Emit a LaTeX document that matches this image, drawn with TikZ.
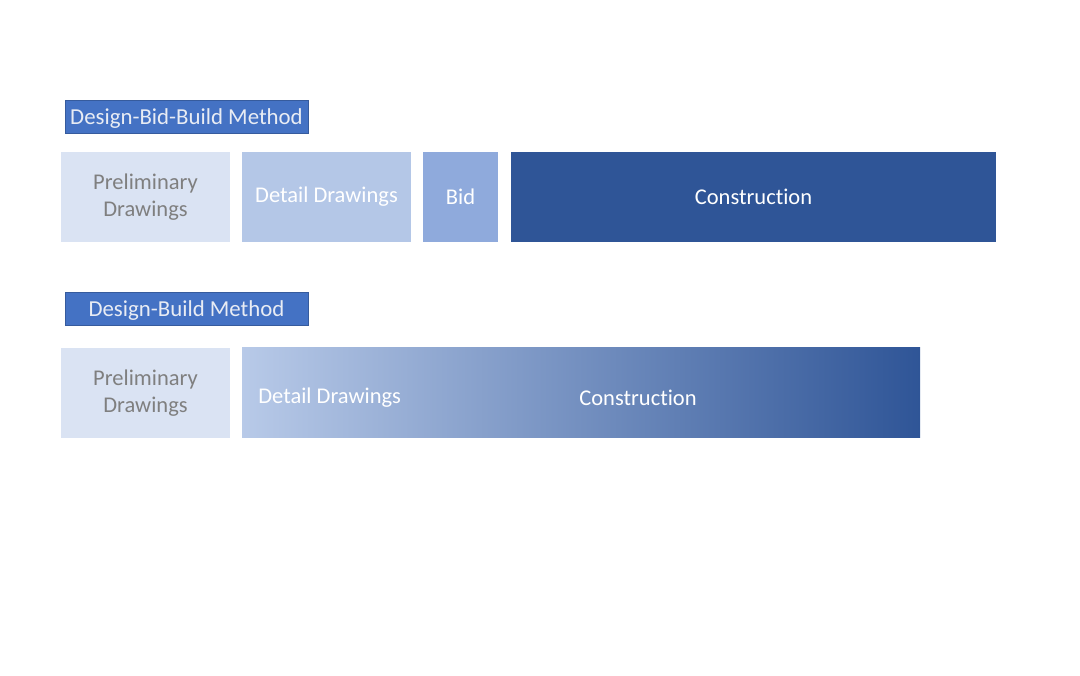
\documentclass[tikz,border=0pt]{standalone}
\usepackage{fontspec}
\setmainfont{Carlito}[Ligatures=NoCommon]
\usepackage{tikz}

\definecolor{hdrblue}{HTML}{4472C4}
\definecolor{prelim}{HTML}{DAE3F3}
\definecolor{detail}{HTML}{B4C7E7}
\definecolor{bidblue}{HTML}{8FAADC}
\definecolor{constr}{HTML}{2F5597}
\definecolor{midblue}{HTML}{7F94BC}
\definecolor{greytext}{HTML}{7F7F7F}
\definecolor{hdrtext}{HTML}{E8ECF4}

\tikzset{
  stage/.style={inner sep=0pt, minimum height=1.8cm, align=center,
                text=white, font=\fontsize{12.8}{15.4}\selectfont},
  header/.style={inner sep=0pt, minimum width=4.86cm, minimum height=0.66cm,
                 text height=0.36cm, text depth=0.04cm,
                 fill=hdrblue, draw=hdrblue!80!black, line width=0.4pt,
                 text=hdrtext, font=\fontsize{13}{15}\selectfont},
  lbl/.style={inner sep=0pt, text=white, font=\fontsize{12.8}{15.4}\selectfont}
}

\begin{document}
\begin{tikzpicture}
        \useasboundingbox (0,0) rectangle (21.6,13.5);                   %page
        % design-bid-build
        \node [header] (dbbHead)  at (3.73,11.17) {Design-Bid-Build Method};%
        \node [stage, fill=prelim, text=greytext, minimum width=3.38cm]
              (dbbPrelim) at (2.91,9.56)  {Preliminary\\Drawings};      %
        \node [stage, fill=detail, minimum width=3.38cm]
              (dbbDetail) at (6.53,9.56)  {Detail Drawings};            %
        \node [stage, fill=bidblue, minimum width=1.5cm]
              (dbbBid)    at (9.21,9.56)  {Bid};                        %
        \node [stage, fill=constr, minimum width=9.7cm]
              (dbbConstr) at (15.07,9.56) {Construction};               %

        % design-build
        \node [header] (dbHead)   at (3.73,7.33)  {Design-Build Method};    %
        \node [stage, fill=prelim, text=greytext, minimum width=3.38cm]
              (dbPrelim)  at (2.91,5.64)  {Preliminary\\Drawings};      %
        \node [stage, left color=detail!90!prelim, middle color=midblue,
               right color=constr, minimum width=13.56cm]
              (dbGrad)    at (11.62,5.66) {};                           %
        \node [lbl, anchor=west] (dbDetail) at (5.16,5.54) {Detail Drawings};%
        \node [lbl] (dbConstr)  at (12.76,5.54) {Construction};         %
      \end{tikzpicture}
\end{document}
